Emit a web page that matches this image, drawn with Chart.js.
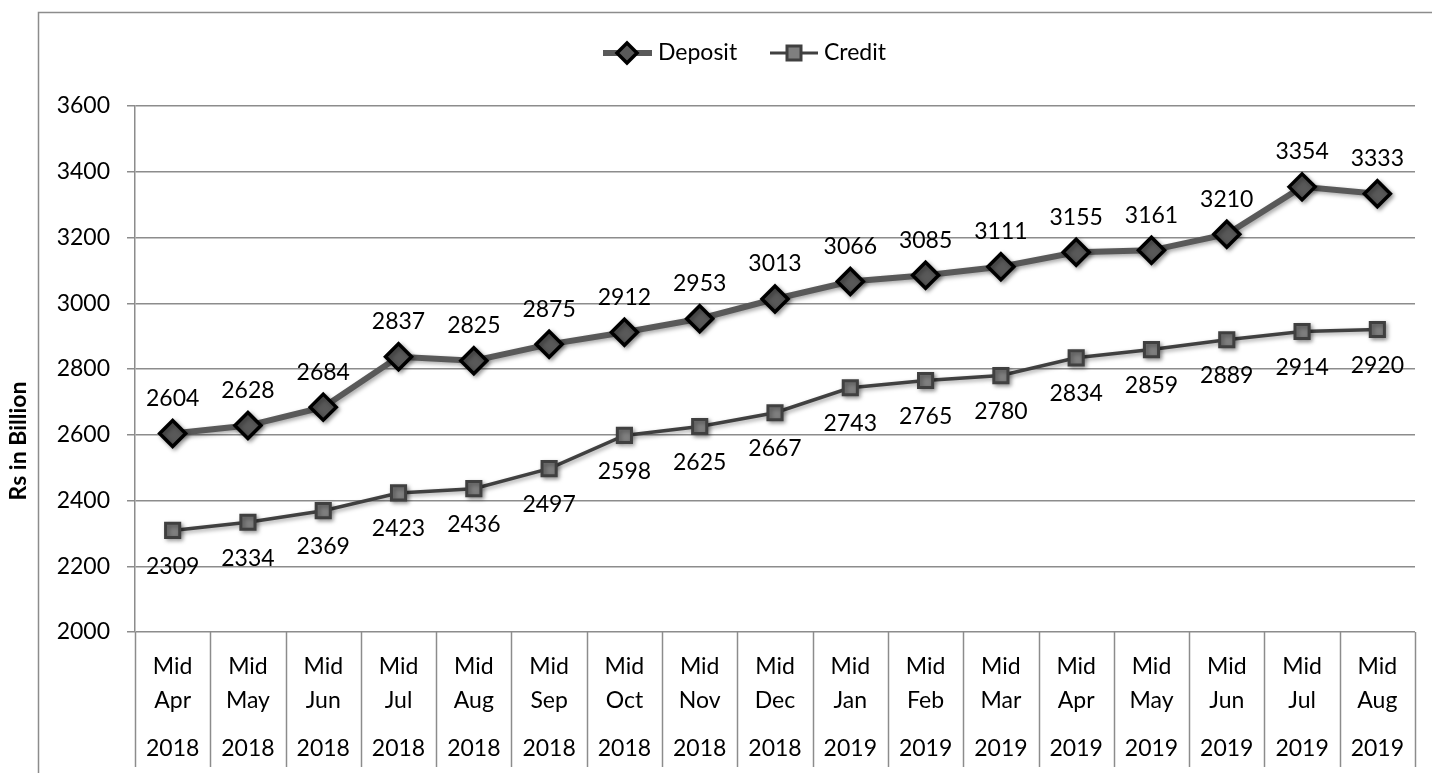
<!DOCTYPE html>
<html>
<head>
<meta charset="utf-8">
<script src="https://cdn.jsdelivr.net/npm/chart.js@4.4.0/dist/chart.umd.min.js"></script>
<style>
  html, body { margin: 0; padding: 0; background: #fff; overflow: hidden; }
  #wrap { width: 1432px; height: 773px; position: relative; }
</style>
</head>
<body>
<div id="wrap"><canvas id="c"></canvas></div>
<script>
// data
const months = ['Apr', 'May', 'Jun', 'Jul', 'Aug', 'Sep', 'Oct', 'Nov', 'Dec',
                'Jan', 'Feb', 'Mar', 'Apr', 'May', 'Jun', 'Jul', 'Aug'];
const years = ['2018', '2018', '2018', '2018', '2018', '2018', '2018', '2018', '2018',
               '2019', '2019', '2019', '2019', '2019', '2019', '2019', '2019'];
const deposit = [2604, 2628, 2684, 2837, 2825, 2875, 2912, 2953, 3013,
                 3066, 3085, 3111, 3155, 3161, 3210, 3354, 3333];
const credit = [2309, 2334, 2369, 2423, 2436, 2497, 2598, 2625, 2667,
                2743, 2765, 2780, 2834, 2859, 2889, 2914, 2920];
const yTicks = [2000, 2200, 2400, 2600, 2800, 3000, 3200, 3400, 3600];

const FONT = 'Lato, "Open Sans", sans-serif';
const FS = 23;
const GRID = '#8c8c8c';

// extra drawing: frame, legend, y title, years row, separators, value labels
const decor = {
    id: 'decor',
    beforeDraw(chart) {
        const ctx = chart.ctx;
        ctx.save();
        ctx.fillStyle = '#fff';
        ctx.fillRect(0, 0, chart.width, chart.height);
        ctx.strokeStyle = GRID;
        ctx.lineWidth = 1.5;
        ctx.strokeRect(38.5, 12.5, 1500, 900);
        ctx.restore();
    },
    beforeDatasetsDraw(chart) {
        const ctx = chart.ctx;
        ctx.save();
        ctx.shadowColor = 'rgba(0,0,0,0.35)';
        ctx.shadowBlur = 4;
        ctx.shadowOffsetX = 2;
        ctx.shadowOffsetY = 2;
    },
    afterDatasetsDraw(chart) {
        chart.ctx.restore();
    },
    afterDraw(chart) {
        const ctx = chart.ctx;
        const x = chart.scales.x;
        const area = chart.chartArea;
        ctx.save();

        // category separators below the axis
        ctx.strokeStyle = GRID;
        ctx.lineWidth = 1.5;
        for (let i = 0; i <= months.length; i++) {
            const px = Math.round(x.getPixelForValue(i - 0.5)) + 0.5;
            ctx.beginPath();
            ctx.moveTo(px, area.bottom);
            ctx.lineTo(px, 767);
            ctx.stroke();
        }

        // year row
        ctx.fillStyle = '#000';
        ctx.font = FS + 'px ' + FONT;
        ctx.textAlign = 'center';
        ctx.textBaseline = 'middle';
        years.forEach((yr, i) => {
            ctx.fillText(yr, x.getPixelForValue(i), 749);
        });

        // value labels
        const m0 = chart.getDatasetMeta(0), m1 = chart.getDatasetMeta(1);
        deposit.forEach((v, i) => {
            const p = m0.data[i];
            ctx.fillText(String(v), p.x, p.y - 35);
        });
        credit.forEach((v, i) => {
            const p = m1.data[i];
            ctx.fillText(String(v), p.x, p.y + 36);
        });

        // y axis title
        ctx.save();
        ctx.translate(19, 441);
        ctx.rotate(-Math.PI / 2);
        ctx.font = 'bold ' + FS + 'px ' + FONT;
        ctx.fillText('Rs in Billion', 0, 0);
        ctx.restore();

        // legend
        const ly = 53;
        ctx.textAlign = 'left';
        ctx.strokeStyle = '#595959';
        ctx.lineWidth = 6;
        ctx.beginPath(); ctx.moveTo(603, ly); ctx.lineTo(652, ly); ctx.stroke();
        drawDiamond(ctx, 627, ly, 10);
        ctx.fillStyle = '#000';
        ctx.fillText(chart.data.datasets[0].label, 658, ly);
        ctx.strokeStyle = '#404040';
        ctx.lineWidth = 3;
        ctx.beginPath(); ctx.moveTo(770, ly); ctx.lineTo(818, ly); ctx.stroke();
        ctx.fillStyle = '#7f7f7f';
        ctx.fillRect(787, ly - 7, 14, 14);
        ctx.strokeRect(787, ly - 7, 14, 14);
        ctx.fillStyle = '#000';
        ctx.fillText(chart.data.datasets[1].label, 824, ly);

        ctx.restore();
    }
};

function drawDiamond(ctx, cx, cy, r) {
    ctx.beginPath();
    ctx.moveTo(cx, cy - r);
    ctx.lineTo(cx + r, cy);
    ctx.lineTo(cx, cy + r);
    ctx.lineTo(cx - r, cy);
    ctx.closePath();
    ctx.fillStyle = '#595959';
    ctx.fill();
    ctx.strokeStyle = '#000';
    ctx.lineWidth = 3.5;
    ctx.stroke();
}

const ctx = document.getElementById('c').getContext('2d');
const chart = new Chart(ctx, {
    type: 'line',
    data: {
        labels: months.map(m => ['Mid', m]),
        datasets: [{
            label: 'Deposit',
            data: deposit,
            borderColor: '#595959',
            borderWidth: 6,
            pointStyle: 'rectRot',
            pointRadius: 13,
            pointBackgroundColor: '#595959',
            pointBorderColor: '#000',
            pointBorderWidth: 3.5,
            tension: 0
        }, {
            label: 'Credit',
            data: credit,
            borderColor: '#404040',
            borderWidth: 3.5,
            pointStyle: 'rect',
            pointRadius: 10,
            pointBackgroundColor: '#7f7f7f',
            pointBorderColor: '#404040',
            pointBorderWidth: 3,
            tension: 0
        }]
    },
    options: {
        responsive: true,
        maintainAspectRatio: false,
        animation: false,
        devicePixelRatio: 1,
        layout: { padding: { top: 106, right: 17, left: 0, bottom: 0 } },
        plugins: { legend: { display: false }, tooltip: { enabled: false } },
        scales: {
            x: {
                offset: true,
                grid: { display: false },
                border: { display: false },
                ticks: {
                    color: '#000',
                    font: { family: FONT, size: FS, lineHeight: 1.5 },
                    padding: 9,
                    maxRotation: 0,
                    autoSkip: false
                },
                afterFit(s) { s.height = 141; }
            },
            y: {
                min: 2000,
                max: 3600,
                afterBuildTicks(s) { s.ticks = yTicks.map(v => ({ value: v })); },
                grid: { color: GRID, lineWidth: 1.5, tickLength: 8 },
                border: { color: GRID, width: 1.5 },
                ticks: {
                    color: '#000',
                    font: { family: FONT, size: FS },
                    padding: 17,
                    callback: v => String(v)
                },
                afterFit(s) { s.width = 135; }
            }
        }
    },
    plugins: [decor]
});
</script>
</body>
</html>
